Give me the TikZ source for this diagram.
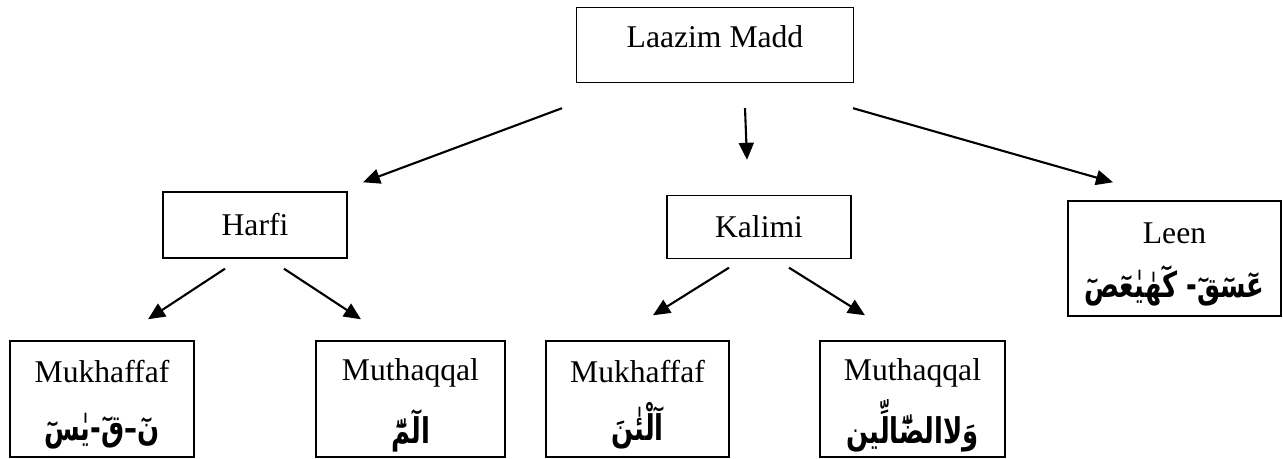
\documentclass[tikz,border=0pt]{standalone}
\usepackage{fontspec}
\setmainfont{Liberation Serif}
\newfontfamily\arabicfont[Script=Arabic]{DejaVu Sans}
\TeXXeTstate=1
\usetikzlibrary{arrows.meta}
\newcommand{\arabictext}[1]{\rule[-6pt]{0pt}{26pt}\smash{\raisebox{-8pt}{\scalebox{0.95}[1.3]{\arabicfont\bfseries\fontsize{15.5}{20}\selectfont\beginR #1\endR}}}}

\tikzstyle{box} = [rectangle, draw=black, line width=0.8pt, align=center, inner sep=0pt, font=\fontsize{18}{22}\selectfont]
\tikzstyle{arrow} = [line width=1.2pt, -{Triangle[length=0.34cm, width=0.3cm]}]

\begin{document}
\begin{tikzpicture}
\useasboundingbox (0,0) rectangle (25.66,9.18);

\node (laazim) [box, minimum width=5.54cm, minimum height=1.5cm] at (14.30,8.28) {\raisebox{0.32cm}{Laazim Madd}};
\node (harfi) [box, minimum width=3.68cm, minimum height=1.32cm] at (5.10,4.68) {Harfi};
\node (kalimi) [box, minimum width=3.68cm, minimum height=1.26cm] at (15.18,4.64) {Kalimi};
\node (leen) [box, minimum width=4.26cm, minimum height=2.30cm] at (23.49,4.01) {Leen\\[1pt] \arabictext{عٓسٓقٓ- كٓهٰيٰعٓصٓ}};
\node (mukharfi) [box, minimum width=3.68cm, minimum height=2.32cm] at (2.04,1.20) {Mukhaffaf\\[3pt] \arabictext{نٓ–قٓ-يٰسٓ}};
\node (mutharfi) [box, minimum width=3.78cm, minimum height=2.32cm] at (8.21,1.20) {Muthaqqal\\[3pt] \arabictext{الٓمّٓ}};
\node (mukkalimi) [box, minimum width=3.66cm, minimum height=2.32cm] at (12.75,1.20) {Mukhaffaf\\[3pt] \arabictext{آلْئٰنَ}};
\node (mutkalimi) [box, minimum width=3.70cm, minimum height=2.32cm] at (18.25,1.20) {Muthaqqal\\[3pt] \arabictext{وَلاالضّٓالِّين}};

% Arrows
\draw [arrow] ([shift={(-3.06,-0.50)}]laazim.south) -- ([shift={(2.16,0.18)}]harfi.north);
\draw [arrow] ([shift={(0.60,-0.50)}]laazim.south) -- ([shift={(-0.24,0.70)}]kalimi.north);
\draw [arrow] ([shift={(2.76,-0.50)}]laazim.south) -- ([shift={(-1.23,0.36)}]leen.north);
\draw [arrow] ([shift={(-0.60,-0.20)}]harfi.south) -- ([shift={(0.92,0.42)}]mukharfi.north);
\draw [arrow] ([shift={(0.58,-0.20)}]harfi.south) -- ([shift={(-0.99,0.42)}]mutharfi.north);
\draw [arrow] ([shift={(-0.60,-0.17)}]kalimi.south) -- ([shift={(0.31,0.50)}]mukkalimi.north);
\draw [arrow] ([shift={(0.60,-0.17)}]kalimi.south) -- ([shift={(-0.95,0.50)}]mutkalimi.north);

\end{tikzpicture}
\end{document}
